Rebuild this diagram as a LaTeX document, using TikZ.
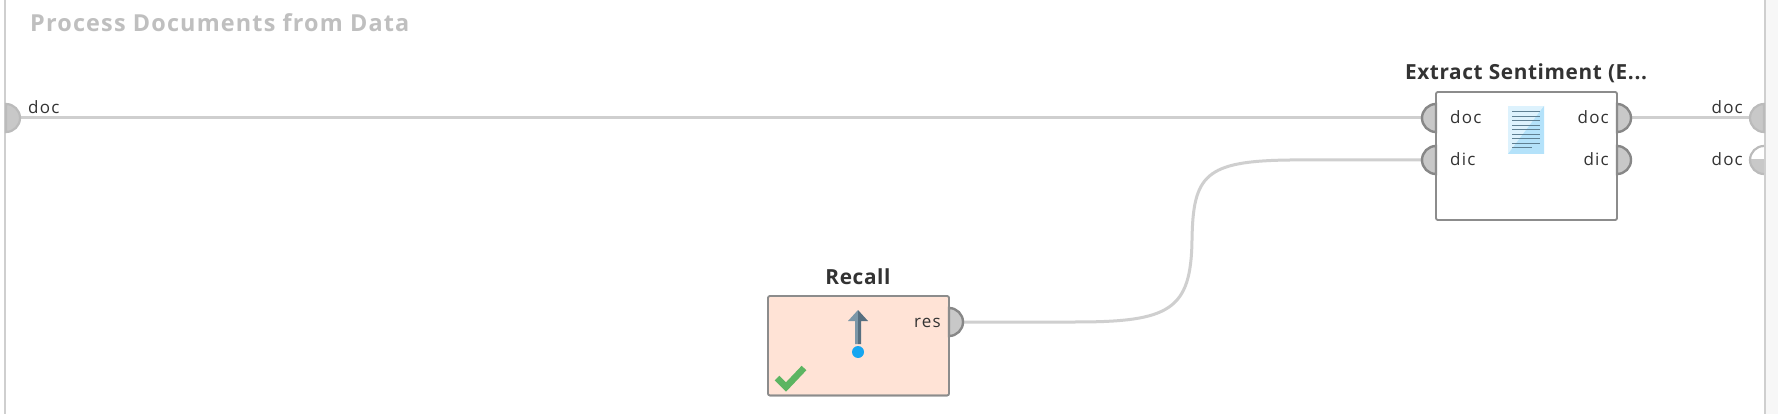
\documentclass[tikz,border=0pt]{standalone}
\usepackage{fontspec}
\setmainfont{Open Sans}
\usetikzlibrary{calc}
\newfontfamily\lblfont[LetterSpace=7]{Open Sans}
\newfontfamily\ttlfont[LetterSpace=3,BoldFont={Open Sans Bold}]{Open Sans}
\newfontfamily\bigfont[LetterSpace=5,BoldFont={Open Sans Bold}]{Open Sans}
\definecolor{wire}{HTML}{CFCFCF}
\definecolor{portfill}{HTML}{C8C8C8}
\definecolor{portedge}{HTML}{878787}
\definecolor{portpale}{HTML}{BBBBBB}
\definecolor{boxedge}{HTML}{8C8C8C}
\definecolor{lbl}{HTML}{333333}
\definecolor{recallfill}{HTML}{FFE3D6}
\definecolor{docpale}{HTML}{DDF2FD}
\definecolor{docblue}{HTML}{B4E2FA}
\definecolor{docline}{HTML}{5F8093}
\definecolor{arrowlite}{HTML}{7C97A8}
\definecolor{arrowdark}{HTML}{566F80}
\definecolor{dotblue}{HTML}{16A6F0}
\definecolor{checkgreen}{HTML}{5CB562}
\tikzset{
  x=1pt,y=-1pt,
  opbox/.style={draw=boxedge,line width=1.6pt,rounded corners=2pt,fill=white,anchor=north west,inner sep=0pt,outer sep=0pt},
  optitle/.style={font=\fontsize{20.8}{22}\ttlfont\bfseries,text=lbl,anchor=base,inner sep=0pt},
  portlabel/.style={font=\fontsize{17}{18}\lblfont,text=lbl,anchor=base,inner sep=0pt},
  wireline/.style={draw=wire,line width=3pt},
  portedgeline/.style={draw=portedge,line width=2.4pt,fill=portfill},
  paleedgeline/.style={draw=portpale,line width=2.2pt,fill=portfill},
}
\newcommand{\portL}[2][portedgeline]{\draw[#1] ($(#2)+(0,-14)$) arc[start angle=90,end angle=270,radius=14pt] -- cycle;}
\newcommand{\portR}[2][portedgeline]{\draw[#1] ($(#2)+(0,-14)$) arc[start angle=90,end angle=-90,radius=14pt] -- cycle;}
\begin{document}
\begin{tikzpicture}
\useasboundingbox (0,0) rectangle (1778,414);
\fill[white] (0,0) rectangle (1778,414);
\fill[black!3] (1766,0) rectangle (1778,414);
\draw[draw=wire,line width=2pt] (5,0) coordinate (lt) -- (5,414) coordinate (lb);
\draw[draw=wire,line width=2pt] (1765,0) coordinate (rt) -- (1765,414) coordinate (rb);

\node[font=\fontsize{23.4}{26}\bigfont\bfseries,text=black!25,anchor=base west,inner sep=0pt] (title) at (30,32) {Process Documents from Data};

% boxes
\node[opbox,minimum width=181pt,minimum height=128pt] (extract) at (1436,92) {};
\node[opbox,fill=recallfill,minimum width=181pt,minimum height=99.5pt] (recall) at (768,296) {};
\node[optitle] (extractT) at (1526,80) {Extract Sentiment (E...};
\node[optitle] (recallT) at (858,284) {Recall};

% port anchors
\coordinate (inDoc) at (6,118);
\coordinate (outDoc) at (1764,118);
\coordinate (outDoc2) at (1764,160);
\coordinate (exInDoc) at (1436,118);
\coordinate (exInDic) at (1436,160);
\coordinate (exOutDoc) at (1617,118);
\coordinate (exOutDic) at (1617,160);
\coordinate (reOut) at (949,322);

% wires
\draw[wireline] (inDoc) -- (exInDoc);
\draw[wireline] (exOutDoc) -- (outDoc);
\draw[wireline] (reOut) -- (1075,322) .. controls (1170,322) and (1191,310) .. (1192,240)
  .. controls (1193,175) and (1205,161) .. (1290,160) -- (exInDic);

% ports
\portR[paleedgeline]{inDoc}
\portL[paleedgeline]{outDoc}
\begin{scope}
\clip (1740,160) rectangle (1764,180);
\fill[portfill] (outDoc2) circle[radius=14pt];
\end{scope}
\draw[paleedgeline,fill=none] ($(outDoc2)+(0,-14)$) arc[start angle=90,end angle=270,radius=14pt];
\portL{exInDoc}
\portL{exInDic}
\portR{exOutDoc}
\portR{exOutDic}
\portR{reOut}
\draw[draw=boxedge,line width=1.6pt,rounded corners=2pt] (extract.north west) rectangle (extract.south east);
\draw[draw=boxedge,line width=1.6pt,rounded corners=2pt] (recall.north west) rectangle (recall.south east);

% port labels
\node[portlabel,anchor=base west] (l1) at (28,114) {doc};
\node[portlabel,anchor=base west] (l2) at (1450,124) {doc};
\node[portlabel,anchor=base west] (l3) at (1450,166) {dic};
\node[portlabel,anchor=base east] (l4) at (1609,124) {doc};
\node[portlabel,anchor=base east] (l5) at (1609,166) {dic};
\node[portlabel,anchor=base east] (l6) at (1743,114) {doc};
\node[portlabel,anchor=base east] (l7) at (1743,166) {doc};
\node[portlabel,anchor=base east] (l8) at (941,327) {res};

% document icon
\fill[docpale] (1508,106) rectangle (1544,154);
\fill[docblue] (1544,106) -- (1544,154) -- (1508,154) -- cycle;
\foreach \yy in {112,116.5,121,125.5,130,134.5,139,143.5}
  \draw[draw=docline,line width=1pt] (1512,\yy) -- (1540,\yy);
\draw[draw=docline,line width=1pt] (1512,148) -- (1532,148);

% recall icon
\fill[arrowlite] (855,344) -- (855,321) -- (848,321) -- (858,310) -- (858,344) -- cycle;
\fill[arrowdark] (861,344) -- (861,321) -- (868,321) -- (858,310) -- (858,344) -- cycle;
\fill[dotblue] (858,352) circle[radius=6pt];

% check mark
\draw[draw=checkgreen,line width=6.5pt] (777,378) -- (786,387) -- (804,368);
\end{tikzpicture}
\end{document}
